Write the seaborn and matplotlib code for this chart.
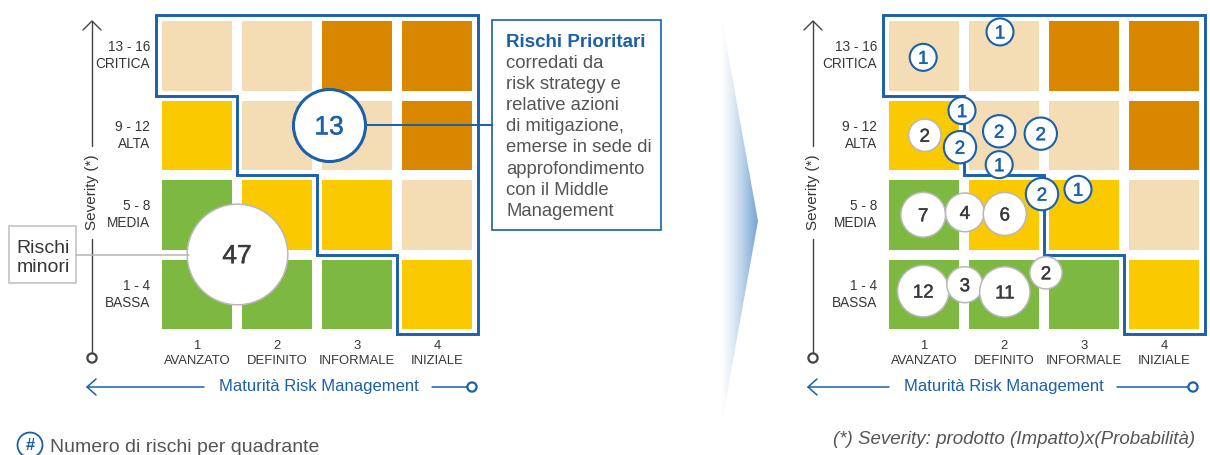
import numpy as np
import pandas as pd
import matplotlib
matplotlib.use("Agg")
import matplotlib.pyplot as plt
import matplotlib.patheffects as pe
import seaborn as sns
from matplotlib.colors import ListedColormap, LinearSegmentedColormap
from matplotlib.patches import Rectangle, Circle, Polygon

# ---------------- data ----------------
severity_labels = ["13 - 16\nCRITICA", "9 - 12\nALTA", "5 - 8\nMEDIA", "1 - 4\nBASSA"]
maturity_labels = ["1\nAVANZATO", "2\nDEFINITO", "3\nINFORMALE", "4\nINIZIALE"]
# risk level per cell: 0 green, 1 yellow, 2 beige, 3 orange
risk_level = [[2, 2, 3, 3],
              [1, 2, 2, 3],
              [0, 1, 1, 2],
              [0, 0, 0, 1]]
level_colors = ["#7db940", "#fbc900", "#f4dcb4", "#da8700"]

# left panel: totals
summary_values = [13, 47]
summary_col = [2.15, 1.0]
summary_row = [1.37, 2.99]
summary_priority = [True, False]

# right panel: risks per quadrant
detail_values = [1, 1, 1, 2, 2, 2, 2, 1, 2, 1, 7, 4, 6, 12, 3, 11, 2]
detail_col = [0.49, 1.45, 0.975, 0.51, 0.95, 1.44, 1.96, 1.44, 1.975, 2.425,
              0.49, 1.01, 1.51, 0.49, 1.01, 1.51, 2.025]
detail_row = [0.52, 0.20, 1.19, 1.50, 1.65, 1.45, 1.48, 1.87, 2.24, 2.18,
              2.50, 2.47, 2.49, 3.46, 3.38, 3.47, 3.23]
detail_priority = [True, True, True, False, True, True, True, True, True, True,
                   False, False, False, False, False, False, False]

# priority-zone outline (grid units)
outline_x = [-0.015, 4.015, 4.015, 3.0, 3.0, 2.0, 2.0, 1.0, 1.0, -0.015, -0.015]
outline_y = [-0.015, -0.015, 4.0, 4.0, 3.0, 3.0, 2.0, 2.0, 1.0, 1.0, -0.015]

box_title = "Rischi Prioritari"
box_lines = ["corredati da", "risk strategy e", "relative azioni", "di mitigazione,",
             "emerse in sede di", "approfondimento", "con il Middle", "Management"]

# ---------------- style ----------------
sns.set_theme(style="white")
plt.rcParams["font.family"] = ["Liberation Sans", "DejaVu Sans"]

BLUE = "#1b60ab"
DARK = "#363636"
GRAY_TXT = "#555555"

W, H = 1210, 455
fig = plt.figure(figsize=(W / 100, H / 100), dpi=100)


def px_axes(x0, y0, x1, y1):
    return fig.add_axes([x0 / W, 1 - y1 / H, (x1 - x0) / W, (y1 - y0) / H])


df = pd.DataFrame(risk_level, index=severity_labels, columns=maturity_labels)
cmap = ListedColormap(level_colors)


def draw_bubbles(ax, vals, cols, rows, prio, k, fs, lw_prio):
    vals = np.asarray(vals, dtype=float)
    cols = np.asarray(cols)
    rows = np.asarray(rows)
    prio = np.asarray(prio)
    r = k * vals ** 0.26
    s = (1.44 * r) ** 2
    for flag, ec, lw, tc in [(False, "#b8b8b8", 1.1, "#3a3a3a"), (True, BLUE, lw_prio, BLUE)]:
        m = prio == flag
        if not m.any():
            continue
        sns.scatterplot(x=cols[m], y=rows[m], s=s[m], color="white", edgecolor=ec,
                        linewidth=lw, ax=ax, legend=False, zorder=4, clip_on=False)
        for xx, yy, vv in zip(cols[m], rows[m], vals[m]):
            t = ax.text(xx, yy, f"{int(vv)}", ha="center", va="center_baseline",
                        fontsize=fs, color=tc, zorder=5, clip_on=False)
            t.set_path_effects([pe.withStroke(linewidth=0.3, foreground=tc)])


panels = []
for gx in (157, 884):
    ax = px_axes(gx, 16, gx + 320, 334)
    sns.heatmap(df, ax=ax, cmap=cmap, vmin=-0.5, vmax=3.5, cbar=False,
                linewidths=5.8, linecolor="white", xticklabels=True, yticklabels=True)
    ax.set_xlabel("")
    ax.set_ylabel("")
    ax.tick_params(axis="x", length=0, pad=4, labelsize=9.4, labelcolor=DARK)
    ax.tick_params(axis="y", length=0, pad=5, labelsize=9.8, labelcolor=DARK)
    for t in ax.get_yticklabels():
        t.set_rotation(0)
        t.set_ha("right")
        t.set_multialignment("right")
        t.set_linespacing(1.3)
    for t in ax.get_xticklabels():
        t.set_rotation(0)
        t.set_ha("center")
        t.set_multialignment("center")
        t.set_linespacing(1.35)
    ax.plot(outline_x, outline_y, color=BLUE, lw=2.1, zorder=3, clip_on=False,
            solid_joinstyle="miter")
    panels.append(ax)

draw_bubbles(panels[0], summary_values, summary_col, summary_row, summary_priority,
             k=18.5, fs=19, lw_prio=2.2)
draw_bubbles(panels[1], detail_values, detail_col, detail_row, detail_priority,
             k=13.5, fs=13.5, lw_prio=1.5)
for ax in panels:
    ax.set_xlim(0, 4)
    ax.set_ylim(4, 0)

# ---------------- overlay (annotations) ----------------
ov = fig.add_axes([0, 0, 1, 1])
ov.axis("off")

# middle gradient chevron
grad = np.linspace(0, 1, 256).reshape(1, -1) ** 1.3
gcmap = LinearSegmentedColormap.from_list("g", ["#ffffff", "#74a4d4"])
im = ov.imshow(grad, extent=[721, 758, 427, 15], cmap=gcmap, aspect="auto", zorder=1)
poly = Polygon([[721, 15], [758, 221], [721, 427]], closed=True,
               facecolor="none", edgecolor="none")
ov.add_patch(poly)
im.set_clip_path(poly)

# axes arrows for each panel
for yx, xl, xe, xt, x2, xc in [(92, 87, 204, 319, 432, 472),
                                (813, 808, 889, 1003.5, 1117, 1193)]:
    # severity axis
    ov.plot([yx, yx], [353, 239], color="#444444", lw=1.0)
    ov.plot([yx, yx], [146, 21], color="#444444", lw=1.0)
    ov.plot([yx - 9, yx, yx + 9], [30, 21, 30], color="#444444", lw=1.0)
    ov.add_patch(Circle((yx, 358), 4.6, facecolor="white", edgecolor="#444444", lw=1.6, zorder=3))
    ov.text(yx, 192, "Severity (*)", rotation=90, ha="center", va="center",
            fontsize=11, color=DARK)
    # maturity axis
    ov.plot([xl, xe], [387, 387], color=BLUE, lw=1.1)
    ov.plot([xl + 9, xl, xl + 9], [379, 387, 395], color=BLUE, lw=1.1)
    ov.plot([x2, xc - 4.5], [387, 387], color=BLUE, lw=1.1)
    ov.add_patch(Circle((xc, 387), 4.6, facecolor="white", edgecolor=BLUE, lw=1.6, zorder=3))
    ov.text(xt, 387, "Maturità Risk Management", ha="center", va="center",
            fontsize=12, color=BLUE)

# Rischi Prioritari callout
ov.plot([366, 492], [125, 125], color=BLUE, lw=1.4)
ov.add_patch(Rectangle((492, 20), 169, 210, facecolor="white", edgecolor=BLUE, lw=1.2))
ov.text(506, 47, box_title, ha="left", va="baseline", fontsize=13.5,
        fontweight="bold", color=BLUE)
for i, line in enumerate(box_lines):
    ov.text(506, 68 + 21.1 * i, line, ha="left", va="baseline", fontsize=13.3,
            color=GRAY_TXT)

# Rischi minori callout
ov.plot([76, 189], [255, 255], color="#b5b5b5", lw=1.1)
ov.add_patch(Rectangle((9, 226), 67, 57, facecolor="white", edgecolor="#c4c4c4", lw=1.2))
ov.text(43, 253, "Rischi", ha="center", va="baseline", fontsize=14, color=DARK)
ov.text(43, 272, "minori", ha="center", va="baseline", fontsize=14, color=DARK)

# legend & footnote
ov.add_patch(Circle((30, 445), 12.5, facecolor="white", edgecolor=BLUE, lw=1.3))
ov.text(30, 445, "#", ha="center", va="center", fontsize=12, fontweight="bold", color=BLUE)
ov.text(50, 452, "Numero di rischi per quadrante", ha="left", va="baseline",
        fontsize=14, color=GRAY_TXT)
ov.text(1195, 444, "(*) Severity: prodotto (Impatto)x(Probabilità)", ha="right",
        va="baseline", fontsize=13.5, style="italic", color=GRAY_TXT)

ov.set_xlim(0, W)
ov.set_ylim(H, 0)

fig.savefig("out.png", dpi=100)
